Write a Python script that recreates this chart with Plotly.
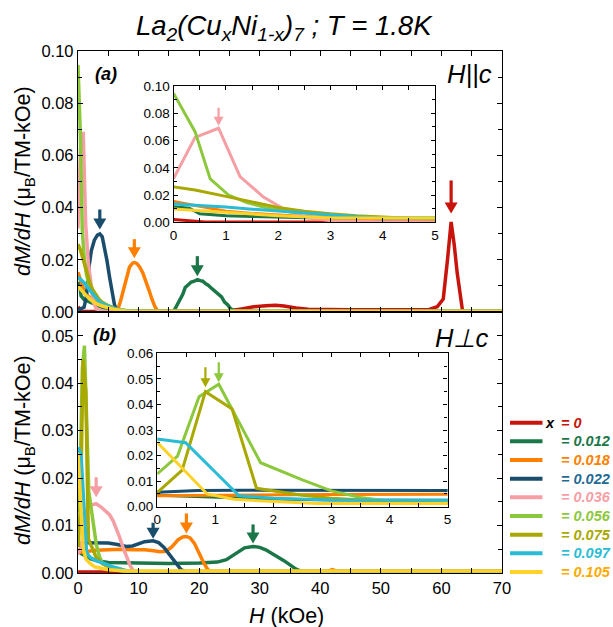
import numpy as np
import plotly.graph_objects as go

# ---------------- compositions, colours ----------------
compositions = ["0", "0.012", "0.018", "0.022", "0.036", "0.056", "0.075", "0.097", "0.105"]
line_colors = ["#c8140c", "#1b7648", "#ff7f00", "#1a4d6c", "#f59ea4",
               "#8cc83c", "#a8a800", "#2abcd4", "#ffd22a"]
text_colors = ["#c8140c", "#1b7648", "#ff7f00", "#1f6a94", "#f59ea4",
               "#8cc83c", "#a8a800", "#2abcd4", "#ffaa00"]

# ---------------- (a) H || c : dM/dH (muB / TM-kOe) vs H (kOe) ----------------
Hc_H_000 = [0, 0.6, 2, 10, 20, 25, 27, 29, 31, 32.6, 34, 36, 38, 40, 45, 50, 55, 58,
            59.3, 60.3, 61.0, 61.6, 62.1, 62.6, 63.5, 65, 70]
Hc_M_000 = [0.002, 0.0003, 0.0002, 0.0002, 0.0003, 0.0005, 0.0012, 0.002, 0.0024, 0.0026,
            0.0023, 0.0015, 0.0011, 0.001, 0.0009, 0.0009, 0.0009, 0.001,
            0.002, 0.005, 0.02, 0.0345, 0.026, 0.015, 0.0002, 0.0002, 0.0002]

Hc_H_012 = [0, 0.3, 0.5, 1, 1.5, 2, 3, 4, 5, 6, 8, 10, 12, 14, 15.8, 16.3, 16.8, 17.3,
            17.7, 18.2, 18.7, 19.2, 19.7, 20.2, 20.6, 21.1, 21.5, 21.9, 22.5, 23.2, 23.7,
            24.2, 24.7, 25.2, 26.1, 28, 40, 55, 70]
Hc_M_012 = [0.0115, 0.0104, 0.0062, 0.0048, 0.0043, 0.0038, 0.0028, 0.0018, 0.0012, 0.0007,
            0.0003, 0.0002, 0.0002, 0.0002, 0.0003, 0.0025, 0.005, 0.0068,
            0.0094, 0.0103, 0.0115, 0.0118, 0.0124, 0.012, 0.0118, 0.0108, 0.0103, 0.0094,
            0.0083, 0.0071, 0.0058, 0.0038, 0.0028, 0.0012, 0.0002, 0.0002, 0.0002, 0.0002,
            0.0002]

Hc_H_018 = [0, 0.5, 1, 1.5, 2, 2.5, 3, 4, 5, 6, 6.5, 7.0, 7.5, 8.0, 8.5, 9.0, 9.3, 9.7,
            10.2, 10.7, 11.2, 11.7, 12.2, 12.7, 13.2, 14, 20, 40, 70]
Hc_M_018 = [0.0152, 0.0115, 0.0082, 0.0065, 0.0052, 0.0043, 0.0035, 0.0026, 0.0019, 0.001,
            0.0004, 0.004, 0.0085, 0.0135, 0.0172, 0.0187, 0.0189, 0.0186,
            0.0172, 0.015, 0.012, 0.0085, 0.005, 0.002, 0.0003, 0.0002, 0.0002, 0.0002,
            0.0002]

Hc_H_022 = [0, 0.5, 1.0, 1.4, 1.8, 2.2, 2.7, 3.2, 3.6, 4.0, 4.4, 4.8, 5.2, 5.6, 6.0, 6.4,
            8, 70]
Hc_M_022 = [0.0008, 0.0012, 0.0018, 0.006, 0.017, 0.0235, 0.0275, 0.0295, 0.0299, 0.0288,
            0.0245, 0.0195, 0.0135, 0.0075, 0.003, 0.0003, 0.0002, 0.0002]

Hc_H_036 = [0, 0.41, 0.86, 1.27, 1.71, 2.1, 2.5, 3.0, 4.0, 5, 8, 70]
Hc_M_036 = [0.032, 0.0623, 0.069, 0.0335, 0.0188, 0.010, 0.004, 0.0012, 0.0004, 0.0002,
            0.0001, 0.0001]

Hc_H_056 = [0, 0.41, 0.70, 1.05, 1.4, 1.78, 2.2, 2.7, 3.2, 4, 5, 6, 8, 10, 70]
Hc_M_056 = [0.0946, 0.0665, 0.0318, 0.020, 0.0145, 0.0105, 0.0078, 0.006, 0.0047, 0.0033,
            0.0022, 0.0012, 0.0004, 0.0002, 0.0002]

Hc_H_075 = [0, 0.41, 1.0, 1.5, 2.0, 2.5, 3.0, 3.5, 4.0, 4.5, 5.0, 6, 7, 9, 12, 70]
Hc_M_075 = [0.026, 0.0237, 0.019, 0.0148, 0.0108, 0.0082, 0.0062, 0.0048, 0.0037, 0.0029,
            0.0024, 0.0015, 0.0008, 0.0003, 0.0002, 0.0002]

Hc_H_097 = [0, 0.5, 1.0, 1.5, 2.0, 2.5, 3.0, 3.5, 4.0, 5.0, 6, 8, 10, 70]
Hc_M_097 = [0.0134, 0.0124, 0.0112, 0.0096, 0.0082, 0.0066, 0.0052, 0.004, 0.0032, 0.0022,
            0.0013, 0.0005, 0.0003, 0.0003]

Hc_H_105 = [0, 0.4, 1.0, 1.5, 2, 3, 4, 5, 6, 8, 10, 70]
Hc_M_105 = [0.0098, 0.0089, 0.0072, 0.006, 0.0048, 0.0032, 0.0023, 0.0017, 0.001, 0.0004,
            0.0003, 0.0003]

# ---------------- (b) H perp c ----------------
Hab_H_000 = [0, 2, 70]
Hab_M_000 = [0.0002, 0.0002, 0.0002]

Hab_H_012 = [0, 1, 2, 3, 5, 10, 15, 20, 23, 24.5, 25.5, 26.5, 27.5, 28.9, 30, 31, 32, 33,
             34, 35, 36, 37, 40, 70]
Hab_M_012 = [0.0045, 0.0038, 0.003, 0.0026, 0.0022, 0.0021, 0.002, 0.0021, 0.0023, 0.0028,
             0.0036, 0.0046, 0.0053, 0.0056, 0.0054, 0.0049, 0.0042, 0.0034,
             0.0026, 0.0017, 0.0008, 0.0003, 0.0003, 0.0003]

Hab_H_018 = [0, 1, 2, 3, 5, 7, 9, 11, 12.5, 13.5, 14.5, 15.5, 16.5, 17.3, 17.9, 18.5, 19.2,
             20, 20.8, 21.5, 22.3, 30, 41, 42, 43, 70]
Hab_M_018 = [0.0043, 0.0045, 0.0047, 0.0048, 0.0049, 0.005, 0.0049, 0.0049, 0.0047, 0.0045,
             0.0046, 0.0055, 0.007, 0.0076, 0.0077, 0.0074, 0.0063,
             0.0042, 0.002, 0.0006, 0.0003, 0.0003, 0.0003, 0.0007, 0.0003, 0.0003]

Hab_H_022 = [0, 0.7, 1.5, 3, 5, 6.5, 8, 9, 10, 11, 12.4, 13.3, 14.2, 15, 15.8, 16.4, 17,
             17.7, 20, 70]
Hab_M_022 = [0.0057, 0.0063, 0.0064, 0.0064, 0.0063, 0.006, 0.0056, 0.0057, 0.0062, 0.0066,
             0.0068, 0.0064, 0.0054, 0.0041, 0.0027, 0.0016, 0.0007,
             0.0003, 0.0003, 0.0003]

Hab_H_036 = [0, 0.5, 1.0, 1.5, 2.2, 3.0, 3.8, 4.5, 5.2, 5.8, 6.3, 6.8, 7.4, 8.0, 8.6, 9.2,
             10, 70]
Hab_M_036 = [0.004, 0.0055, 0.009, 0.0135, 0.0143, 0.0146, 0.0139, 0.0132, 0.0123, 0.011,
             0.0095, 0.0078, 0.0055, 0.0035, 0.0016, 0.0003, 0.0002, 0.0002]

Hab_H_056 = [0, 0.35, 0.72, 1.06, 1.78, 2.5, 3.0, 3.5, 4.0, 5.0, 6, 8, 10, 70]
Hab_M_056 = [0.0128, 0.0198, 0.043, 0.0479, 0.0172, 0.0105, 0.0062, 0.0036, 0.0021, 0.0013,
             0.0007, 0.0003, 0.0002, 0.0002]

Hab_H_075 = [0, 0.43, 0.83, 1.29, 1.71, 2.5, 3.0, 4.0, 5.0, 6, 8, 10, 70]
Hab_M_075 = [0.0055, 0.0143, 0.045, 0.0382, 0.0072, 0.0045, 0.0033, 0.002, 0.0013, 0.0008,
             0.0003, 0.0002, 0.0002]

Hab_H_097 = [0, 0.49, 1.41, 2.0, 3.0, 4.0, 5.0, 6, 8, 10, 70]
Hab_M_097 = [0.0265, 0.025, 0.0043, 0.0033, 0.0026, 0.0021, 0.0017, 0.0012, 0.0005, 0.0003,
             0.0003]

Hab_H_105 = [0, 0.4, 0.86, 1.32, 2.0, 2.76, 4.0, 5.0, 8, 70]
Hab_M_105 = [0.0252, 0.0157, 0.005, 0.0029, 0.002, 0.0013, 0.0009, 0.0007, 0.0004, 0.0004]

panel_a = [(Hc_H_000, Hc_M_000), (Hc_H_012, Hc_M_012), (Hc_H_018, Hc_M_018),
           (Hc_H_022, Hc_M_022), (Hc_H_036, Hc_M_036), (Hc_H_056, Hc_M_056),
           (Hc_H_075, Hc_M_075), (Hc_H_097, Hc_M_097), (Hc_H_105, Hc_M_105)]
panel_b = [(Hab_H_000, Hab_M_000), (Hab_H_012, Hab_M_012), (Hab_H_018, Hab_M_018),
           (Hab_H_022, Hab_M_022), (Hab_H_036, Hab_M_036), (Hab_H_056, Hab_M_056),
           (Hab_H_075, Hab_M_075), (Hab_H_097, Hab_M_097), (Hab_H_105, Hab_M_105)]

# series shown in the low-field insets
inset_a_series = [0, 1, 2, 4, 5, 6, 7, 8]
inset_b_series = [1, 2, 3, 5, 6, 7, 8]

# ---------------- page geometry (pixels) ----------------
FIG_W, FIG_H = 613, 627
L, T, R, B = 78, 51, 111, 54
PW, PH = FIG_W - L - R, FIG_H - T - B


def px(xp):
    return (xp - L) / PW


def py(yp):
    return (T + PH - yp) / PH


FONT = "Liberation Sans, Arial, sans-serif"

fig = go.Figure()

for i, (h, m) in enumerate(panel_a):
    fig.add_trace(go.Scatter(x=h, y=m, mode="lines", xaxis="x", yaxis="y",
                             line=dict(color=line_colors[i], width=3.5), showlegend=False))
for i, (h, m) in enumerate(panel_b):
    fig.add_trace(go.Scatter(x=h, y=m, mode="lines", xaxis="x2", yaxis="y2",
                             line=dict(color=line_colors[i], width=3.5), showlegend=False))
for i in inset_a_series:
    h, m = panel_a[i]
    fig.add_trace(go.Scatter(x=h, y=m, mode="lines", xaxis="x3", yaxis="y3",
                             line=dict(color=line_colors[i], width=3), showlegend=False))
for i in inset_b_series:
    h, m = panel_b[i]
    fig.add_trace(go.Scatter(x=h, y=m, mode="lines", xaxis="x4", yaxis="y4",
                             line=dict(color=line_colors[i], width=3), showlegend=False))

axis_common = dict(showline=True, linecolor="black", linewidth=1.3, mirror="ticks",
                   ticks="inside", ticklen=5, tickwidth=1.1, tickcolor="black",
                   showgrid=False, zeroline=False,
                   tickfont=dict(family=FONT, size=16.5, color="black"))


def minor(dt, ln=5):
    return dict(ticks="inside", ticklen=ln, tickwidth=1.1, tickcolor="black",
                dtick=dt, showgrid=False)


inset_font = dict(family=FONT, size=13.5, color="black")

fig.update_layout(
    width=FIG_W, height=FIG_H,
    margin=dict(l=L, r=R, t=T, b=B),
    paper_bgcolor="white", plot_bgcolor="white",
    xaxis=dict(axis_common, domain=[0, 1], anchor="y", range=[0, 70], dtick=10,
               showticklabels=False, minor=minor(5)),
    yaxis=dict(axis_common, domain=[0.5, 1], anchor="x", range=[0, 0.1], dtick=0.02,
               tickformat=".2f", minor=minor(0.01, 4)),
    xaxis2=dict(axis_common, domain=[0, 1], anchor="y2", range=[0, 70], dtick=10,
                minor=minor(5)),
    yaxis2=dict(axis_common, domain=[0, 0.5], anchor="x2", range=[0, 0.055], dtick=0.01,
                tickformat=".2f", minor=minor(0.005, 4)),
    xaxis3=dict(axis_common, domain=[px(173.6), px(435.1)], anchor="y3", range=[0, 5],
                dtick=1, ticklen=4, minor=minor(0.5, 4), tickfont=inset_font),
    yaxis3=dict(axis_common, domain=[py(222.3), py(86)], anchor="x3", range=[0, 0.1],
                dtick=0.02, ticklen=4, tickformat=".2f", minor=minor(0.01, 3),
                tickfont=inset_font),
    xaxis4=dict(axis_common, domain=[px(157.2), px(447.6)], anchor="y4", range=[0, 5],
                dtick=1, ticklen=4, minor=minor(0.5, 4), tickfont=inset_font),
    yaxis4=dict(axis_common, domain=[py(506.7), py(353.3)], anchor="x4", range=[0, 0.06],
                dtick=0.01, ticklen=4, tickformat=".2f", minor=minor(0.005, 3),
                tickfont=inset_font),
)

# ---------------- arrows marking the transition peaks ----------------
# (panel, series index, H window, shaft length px, gap px, inset?)
peak_marks = [
    ("a", 3, (2, 6), 20, 4.5, False),
    ("a", 2, (6, 14), 19, 4.5, False),
    ("a", 1, (15, 26), 20, 3.5, False),
    ("a", 0, (55, 66), 33, 8.5, False),
    ("a", 4, (0, 2), 18, 2.5, True),
    ("b", 4, (2, 6), 20, 6.5, False),
    ("b", 3, (9, 16), 16, 2.0, False),
    ("b", 2, (15, 21), 20, 3.0, False),
    ("b", 1, (25, 35), 19, 3.0, False),
    ("b", 6, (0, 2), 20, 4.5, True),
    ("b", 5, (0, 2), 20, 2.0, True),
]
axis_ref = {("a", False): ("x", "y"), ("a", True): ("x3", "y3"),
            ("b", False): ("x2", "y2"), ("b", True): ("x4", "y4")}

for panel, idx, (h0, h1), length, gap, inset in peak_marks:
    h, m = (panel_a if panel == "a" else panel_b)[idx]
    h = np.asarray(h, float)
    m = np.asarray(m, float)
    sel = np.where((h >= h0) & (h <= h1))[0]
    k = sel[np.argmax(m[sel])]
    xr, yr = axis_ref[(panel, inset)]
    head_w = 10 if inset else 13
    head_h = 9 if inset else 11
    shaft_w = 2.2 if inset else 3.2
    anchor = dict(xref=xr, yref=yr, xsizemode="pixel", ysizemode="pixel",
                  xanchor=h[k], yanchor=m[k])
    # shaft
    fig.add_shape(type="line", x0=0, x1=0, y0=gap + head_h - 1, y1=gap + length,
                  line=dict(color=line_colors[idx], width=shaft_w), **anchor)
    # head
    fig.add_shape(type="path",
                  path=f"M {-head_w / 2},{gap + head_h} L {head_w / 2},{gap + head_h} "
                       f"L 0,{gap} Z",
                  fillcolor=line_colors[idx], line=dict(width=0), **anchor)


# ---------------- text ----------------
def label(text, xp, yp, size, xanchor="center", color="black", angle=0):
    fig.add_annotation(text=text, x=px(xp), y=py(yp), xref="paper", yref="paper",
                       showarrow=False, xanchor=xanchor, yanchor="middle",
                       textangle=angle,
                       font=dict(family=FONT, size=size, color=color))


label("<i>La<sub>2</sub>(Cu<sub>x</sub>Ni<sub>1-x</sub>)<sub>7</sub> ; T = 1.8K</i>",
      284.5, 27, 27.5)
ytitle = "<i>dM/dH</i> (μ<sub>B</sub>/TM-kOe)"
label(ytitle, 24, 181, 21.5, angle=-90)
label(ytitle, 24, 450, 21.5, angle=-90)
label("<i>H</i> (kOe)", 286, 616, 21.5)
label("<b><i>(a)</i></b>", 105.5, 74, 18)
label("<b><i>(b)</i></b>", 104.5, 335, 18)
label("<i>H||c</i>", 494, 74, 25.5, xanchor="right")
label("<i>H⊥c</i>", 490, 338, 25.5, xanchor="right")

# ---------------- composition key ----------------
key_y0, key_dy = 422.7, 18.66
for i, comp in enumerate(compositions):
    yk = key_y0 + i * key_dy
    fig.add_shape(type="line", xref="paper", yref="paper",
                  x0=px(510), x1=px(542.5), y0=py(yk), y1=py(yk),
                  line=dict(color=line_colors[i], width=4))
    label(f"<b><i>= {comp}</i></b>", 558.5, yk, 14.5, xanchor="left", color=text_colors[i])
    if i == 0:
        label("<b><i>x</i></b>", 557, yk, 14.5, xanchor="right")

fig.write_html("out.html")
